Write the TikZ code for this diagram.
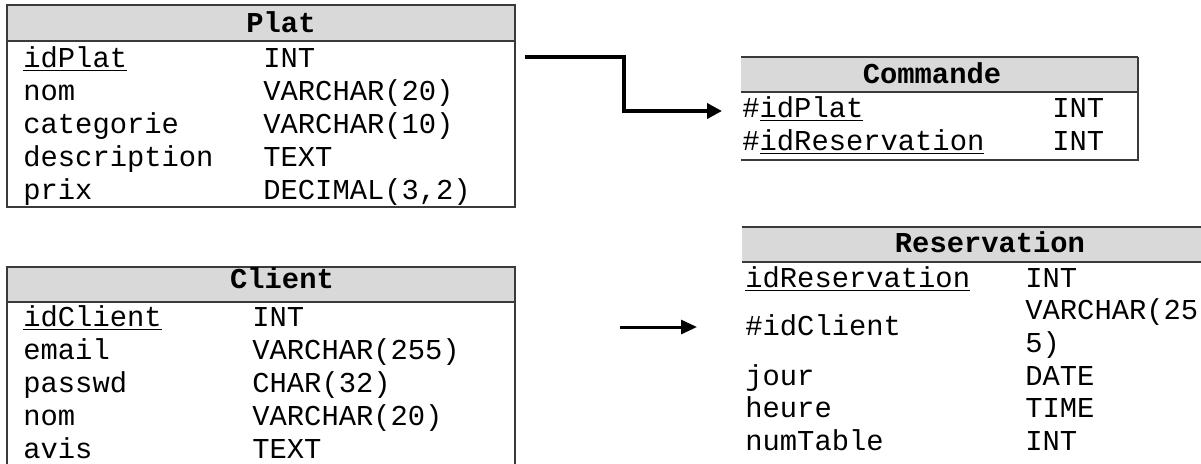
\documentclass[tikz,border=0pt]{standalone}
\usepackage{fontspec}
\setmainfont{Liberation Mono}
\usepackage{tikz}
\usetikzlibrary{arrows.meta,positioning}
\definecolor{headgray}{HTML}{D9D9D9}
\definecolor{rulegray}{HTML}{3A3A3A}
\newcommand{\tabfont}{\fontsize{14.4}{16.5}\selectfont}

\begin{document}
\begin{tikzpicture}[x=0.5pt,y=-0.5pt,
    every node/.style={inner sep=0pt,font=\tabfont},
    field/.style={anchor=base west},
    title/.style={anchor=base,font=\tabfont\bfseries},
    frame/.style={draw=rulegray,line width=0.75pt},
    link/.style={-{Triangle[length=7.5pt,width=7.5pt]},line width=2pt}]
  \useasboundingbox (0,0) rectangle (1201,463);
  \clip (0,0) rectangle (1201,463);

  \fill[headgray] (7,5) rectangle (515,41);
  \draw[frame] (7,5) rectangle (515,207) (7,41) -- (515,41);
  \node[title] (Plat) at (281,32) {Plat};
  \node[field] (p1)  at (23,67)  {\underline{idPlat}};
  \node[field] (p1t) at (263,67) {INT};
  \node[field] (p2)  at (23,100)  {nom};
  \node[field] (p2t) at (263,100) {VARCHAR(20)};
  \node[field] (p3)  at (23,133)  {categorie};
  \node[field] (p3t) at (263,133) {VARCHAR(10)};
  \node[field] (p4)  at (23,166)  {description};
  \node[field] (p4t) at (263,166) {TEXT};
  \node[field] (p5)  at (23,199)  {prix};
  \node[field] (p5t) at (263,199) {DECIMAL(3,2)};

  \fill[headgray] (7,267) rectangle (515,302);
  \draw[frame] (7,267) rectangle (515,480) (7,302) -- (515,302);
  \node[title] (Client) at (282,288) {Client};
  \node[field] (c1)  at (23,326)  {\underline{idClient}};
  \node[field] (c1t) at (252,326) {INT};
  \node[field] (c2)  at (23,359)  {email};
  \node[field] (c2t) at (252,359) {VARCHAR(255)};
  \node[field] (c3)  at (23,392)  {passwd};
  \node[field] (c3t) at (252,392) {CHAR(32)};
  \node[field] (c4)  at (23,425)  {nom};
  \node[field] (c4t) at (252,425) {VARCHAR(20)};
  \node[field] (c5)  at (23,458)  {avis};
  \node[field] (c5t) at (252,458) {TEXT};

  \fill[headgray] (741,57) rectangle (1138,92);
  \draw[frame] (741,57) -- (1138,57) (741,92) -- (1138,92)
               (1138,57) -- (1138,160) -- (741,160);
  \node[title] (Commande) at (932,83) {Commande};
  \node[field] (m1)  at (742,117)  {\#\underline{idPlat}};
  \node[field] (m1t) at (1052,117) {INT};
  \node[field] (m2)  at (742,150)  {\#\underline{idReservation}};
  \node[field] (m2t) at (1052,150) {INT};

  \fill[headgray] (742,227) rectangle (1201,262);
  \draw[frame] (742,227) -- (1201,227) (742,262) -- (1201,262);
  \node[title] (Reservation) at (990,252) {Reservation};
  \node[field] (r1)  at (745,287)  {\underline{idReservation}};
  \node[field] (r1t) at (1025,287) {INT};
  \node[field] (r2)  at (745,335.5) {\#idClient};
  \node[field] (r2t) at (1025,319) {VARCHAR(25};
  \node[field] (r2w) at (1025,352) {5)};
  \node[field] (r3)  at (745,385)  {jour};
  \node[field] (r3t) at (1025,385) {DATE};
  \node[field] (r4)  at (745,417)  {heure};
  \node[field] (r4t) at (1025,417) {TIME};
  \node[field] (r5)  at (745,450)  {numTable};
  \node[field] (r5t) at (1025,450) {INT};

  \coordinate (platOut) at (525,57);
  \coordinate (cmdIn) at (722,111);
  \coordinate (clientOut) at (620,327);
  \coordinate (resIn) at (697,327);
  \draw[link] (platOut) -- ++(99,0) |- (cmdIn);
  \draw[link,line width=1.5pt,-{Triangle[length=8pt,width=7pt]}] (clientOut) -- (resIn);
\end{tikzpicture}
\end{document}
